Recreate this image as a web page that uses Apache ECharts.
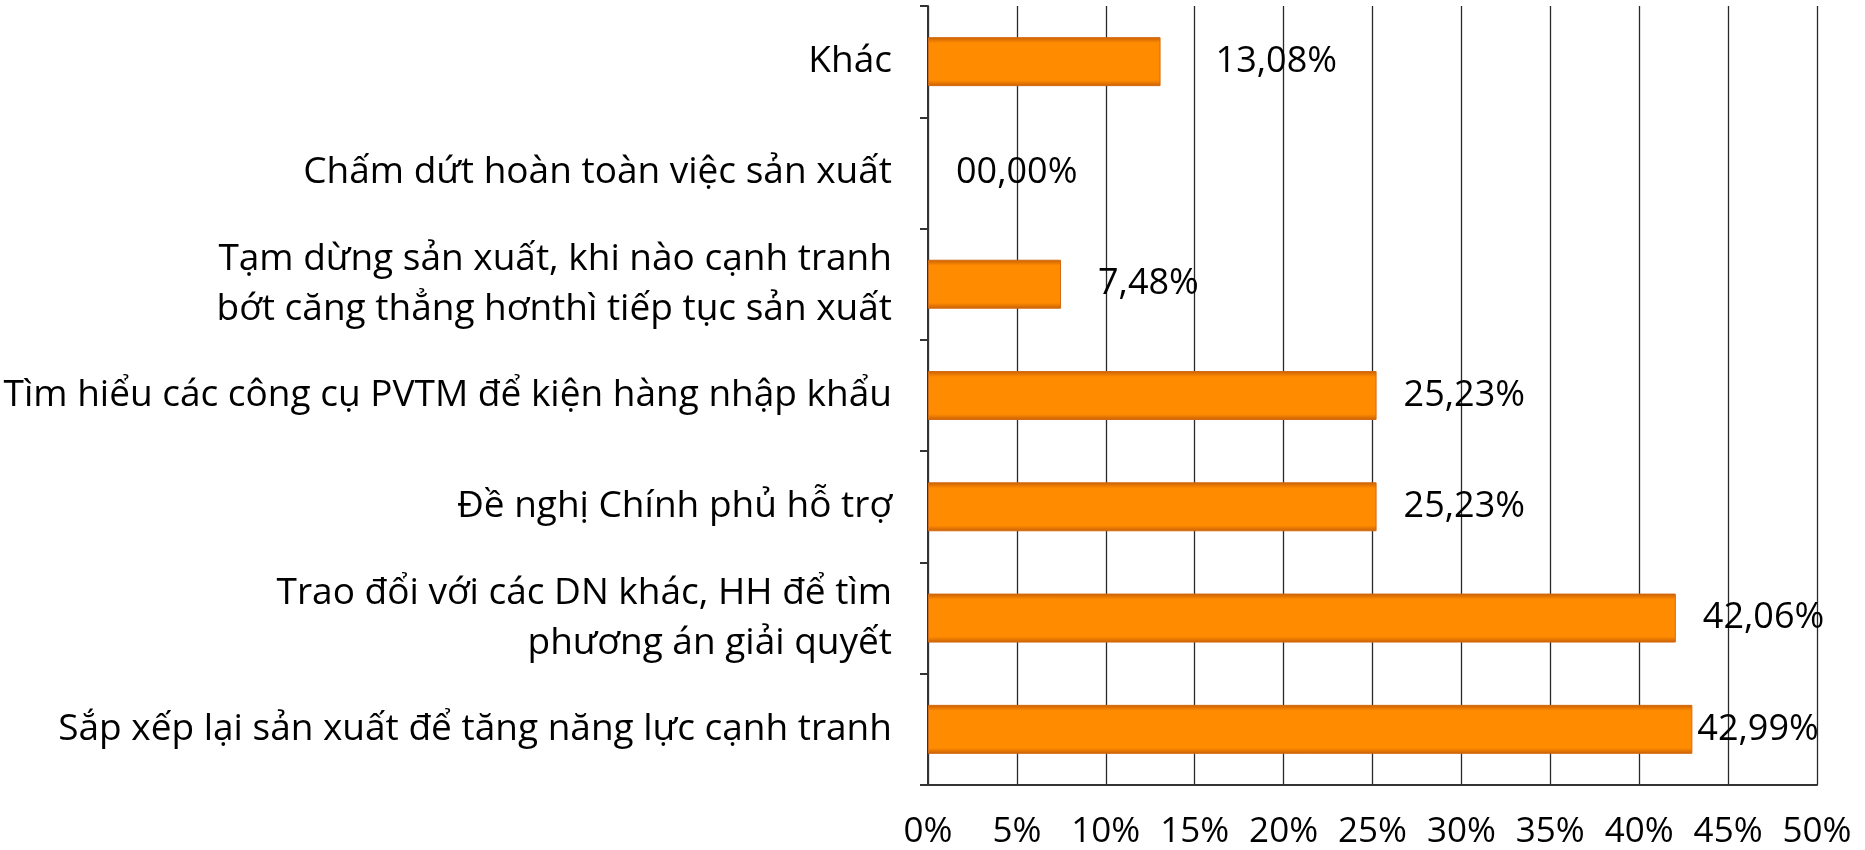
<!DOCTYPE html>
<html>
<head>
<meta charset="utf-8">
<script src="https://cdn.jsdelivr.net/npm/echarts@6/dist/echarts.min.js"></script>
<style>
  html, body { margin: 0; padding: 0; background: #fff; }
  #chart { width: 1865px; height: 850px; }
</style>
</head>
<body>
<div id="chart"></div>
<script>
// danh mục từ trên xuống
var categories = [
    "Khác",
    "Chấm dứt hoàn toàn việc sản xuất",
    "Tạm dừng sản xuất, khi nào cạnh tranh\nbớt căng thẳng hơnthì tiếp tục sản xuất",
    "Tìm hiểu các công cụ PVTM để kiện hàng nhập khẩu",
    "Đề nghị Chính phủ hỗ trợ",
    "Trao đổi với các DN khác, HH để tìm\nphương án giải quyết",
    "Sắp xếp lại sản xuất để tăng năng lực cạnh tranh"
];
var values = [13.08, 0, 7.48, 25.23, 25.23, 42.06, 42.99];
var labelGaps = [55, 28, 37, 27, 27, 27, 5]; // khoảng cách nhãn như bản gốc

var fontName = "'Open Sans', sans-serif";

var chart = echarts.init(document.getElementById('chart'));

var barData = values.map(function (v, i) {
    return {
        value: v,
        label: { distance: labelGaps[i] },
        itemStyle: { borderWidth: v > 0 ? 1 : 0 }
    };
});

var option = {
    backgroundColor: '#fff',
    animation: false,
    grid: { left: 928, right: 48, top: 6, bottom: 65 },
    xAxis: {
        type: 'value',
        min: 0,
        max: 50,
        interval: 5,
        axisLine: { show: true, lineStyle: { color: '#333', width: 2 } },
        axisTick: { show: false },
        splitLine: { show: true, lineStyle: { color: '#2a2a2a', width: 1.3 } },
        axisLabel: {
            color: '#000',
            fontFamily: fontName,
            fontSize: 35,
            margin: 30,
            formatter: '{value}%'
        }
    },
    yAxis: {
        type: 'category',
        inverse: true,
        data: categories,
        axisLine: { show: true, lineStyle: { color: '#333', width: 2 } },
        axisTick: { show: true, length: 8, lineStyle: { color: '#333', width: 2 } },
        axisLabel: {
            color: '#000',
            fontFamily: fontName,
            fontSize: 37,
            lineHeight: 50,
            margin: 36,
            align: 'right'
        }
    },
    series: [{
        type: 'bar',
        data: barData,
        barCategoryGap: '56%',
        itemStyle: {
            color: new echarts.graphic.LinearGradient(0, 0, 0, 1, [
                { offset: 0, color: '#C85F05' },
                { offset: 0.12, color: '#FF8C00' },
                { offset: 0.88, color: '#FF8C00' },
                { offset: 1, color: '#C85F05' }
            ]),
            borderColor: '#D26A10'
        },
        label: {
            show: true,
            position: 'right',
            color: '#000',
            fontFamily: fontName,
            fontSize: 36,
            formatter: function (p) {
                if (p.value === 0) return '00,00%';
                return p.value.toFixed(2).replace('.', ',') + '%';
            }
        }
    }]
};

chart.setOption(option);
</script>
</body>
</html>
